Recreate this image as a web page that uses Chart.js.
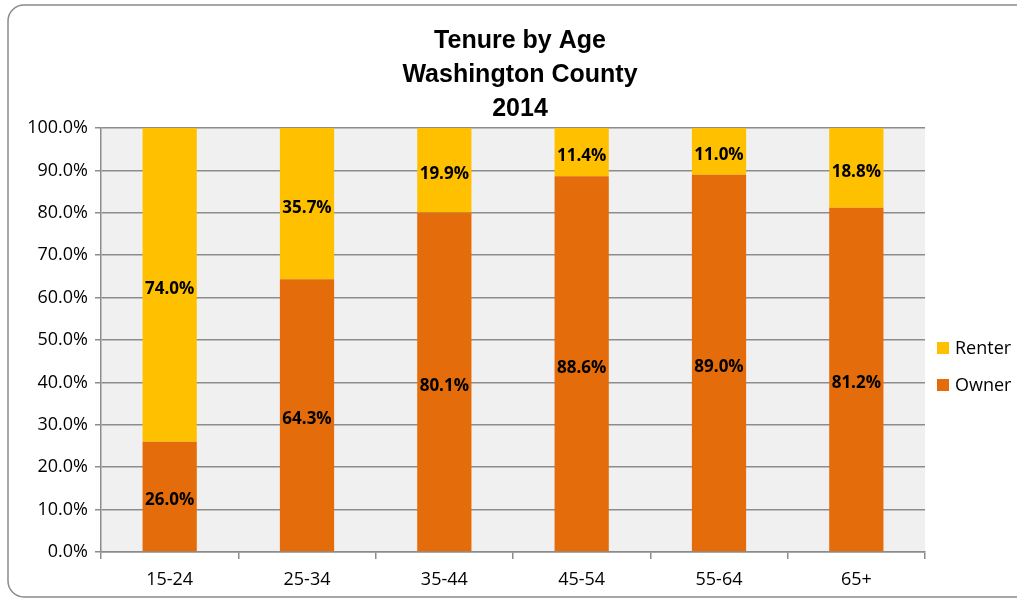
<!DOCTYPE html>
<html>
<head>
<meta charset="utf-8">
<script src="https://cdn.jsdelivr.net/npm/chart.js@4"></script>
<style>
  html, body { margin: 0; padding: 0; background: #fff; }
  #wrap { width: 1017px; height: 600px; position: relative; }
</style>
</head>
<body>
<div id="wrap"><canvas id="myChart" width="1017" height="600"></canvas></div>
<script>
// Data
const ageGroups = ['15-24', '25-34', '35-44', '45-54', '55-64', '65+'];
const ownerPct = [26.0, 64.3, 80.1, 88.6, 89.0, 81.2];
const renterPct = [74.0, 35.7, 19.9, 11.4, 11.0, 18.8];
const titleLines = ['Tenure by Age', 'Washington County', '2014'];

const ownerColor = '#E46C0A';
const renterColor = '#FFC000';
const gridColor = '#8C8C8C';
const tickFont = "'Open Sans', 'Noto Sans', sans-serif";

// frame + plot background
const backgroundPlugin = {
  id: 'bg',
  beforeDraw(chart) {
    const c = chart.ctx;
    const a = chart.chartArea;
    c.save();
    c.fillStyle = '#fff';
    c.fillRect(0, 0, chart.width, chart.height);
    // rounded outer border (runs past the right edge)
    c.strokeStyle = '#8a8a8a';
    c.lineWidth = 1.5;
    c.beginPath();
    c.roundRect(8, 5, chart.width + 20, chart.height - 8, 16);
    c.stroke();
    c.fillStyle = '#F0F0F0';
    c.fillRect(a.left, a.top, a.right - a.left, a.bottom - a.top);
    c.restore();
  }
};

// title, value labels and legend
const overlayPlugin = {
  id: 'overlay',
  afterDatasetsDraw(chart) {
    const c = chart.ctx;
    c.save();
    c.fillStyle = '#000';
    c.font = "bold 17px " + tickFont;
    c.textAlign = 'center';
    c.textBaseline = 'middle';
    chart.data.datasets.forEach((ds, i) => {
      const meta = chart.getDatasetMeta(i);
      meta.data.forEach((bar, j) => {
        // Excel puts the label a little under the middle
        const y = (bar.y + bar.base) / 2 + 4;
        c.fillText(ds.data[j].toFixed(1) + '%', bar.x, y);
      });
    });
    c.restore();
  },
  afterDraw(chart) {
    const c = chart.ctx;
    const a = chart.chartArea;
    c.save();
    // title
    c.fillStyle = '#000';
    c.font = "bold 25px 'Liberation Sans', Arial, sans-serif";
    c.textAlign = 'center';
    c.textBaseline = 'middle';
    titleLines.forEach((t, i) => {
      c.fillText(t, (a.left + a.right) / 2 + 7, 41 + i * 34);
    });
    // legend (Renter on top)
    const items = [
      { label: 'Renter', color: renterColor },
      { label: 'Owner', color: ownerColor }
    ];
    c.font = "18px " + tickFont;
    c.textAlign = 'left';
    items.forEach((it, i) => {
      const y = a.top + 220 + i * 37;
      c.fillStyle = it.color;
      c.fillRect(a.right + 12, y - 6, 12, 12);
      c.fillStyle = '#000';
      c.fillText(it.label, a.right + 30, y + 1);
    });
    c.restore();
  }
};

const ctx = document.getElementById('myChart').getContext('2d');

const myChart = new Chart(ctx, {
  type: 'bar',
  data: {
    labels: ageGroups,
    datasets: [
      {
        label: 'Owner',
        data: ownerPct,
        backgroundColor: ownerColor,
        barPercentage: 0.395,
        categoryPercentage: 1.0
      },
      {
        label: 'Renter',
        data: renterPct,
        backgroundColor: renterColor,
        barPercentage: 0.395,
        categoryPercentage: 1.0
      }
    ]
  },
  options: {
    responsive: false,
    animation: false,
    layout: {
      padding: { top: 128, right: 92, bottom: 0, left: 0 }
    },
    scales: {
      x: {
        stacked: true,
        grid: {
          offset: true,
          drawOnChartArea: false,
          color: gridColor,
          tickLength: 7,
          lineWidth: 1.5
        },
        border: { color: gridColor, width: 1.5 },
        ticks: {
          color: '#000',
          padding: 10,
          font: { family: tickFont, size: 18 }
        },
        afterFit(scale) { scale.height = 48; }
      },
      y: {
        stacked: true,
        min: 0,
        max: 100,
        grid: {
          color: gridColor,
          tickLength: 6,
          lineWidth: 1.5
        },
        border: { color: gridColor, width: 1.5 },
        ticks: {
          stepSize: 10,
          color: '#000',
          padding: 7,
          font: { family: tickFont, size: 18 },
          callback: v => v.toFixed(1) + '%'
        },
        afterFit(scale) { scale.width = 101; }
      }
    },
    plugins: {
      legend: { display: false },
      title: { display: false },
      tooltip: { enabled: false }
    }
  },
  plugins: [backgroundPlugin, overlayPlugin]
});
</script>
</body>
</html>
